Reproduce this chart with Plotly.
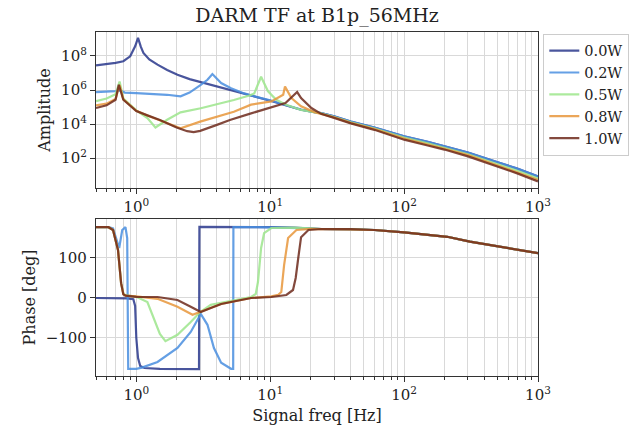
import plotly.graph_objects as go

# ---------------- data ----------------
labels = ["0.0W", "0.2W", "0.5W", "0.8W", "1.0W"]
colors = ["#2a388c", "#4a8fe0", "#9de68c", "#e8973c", "#6e2a1c"]

# Amplitude (log10 values) per series
amp_f_00 = [0.5, 0.6, 0.7, 0.8, 0.9, 0.98, 1.03, 1.08, 1.13, 1.25, 1.44, 1.7, 2.03, 2.5, 3.2, 4.06, 5.0, 6.05, 8.0, 10, 13, 17, 21.4, 24, 30, 40, 60, 100, 150, 200, 300, 500, 700, 1000]
amp_l_00 = [7.45, 7.52, 7.6, 7.69, 7.98, 8.57, 9.06, 8.55, 8.18, 7.8, 7.49, 7.18, 6.9, 6.64, 6.41, 6.22, 6.02, 5.82, 5.6, 5.37, 5.1, 4.84, 4.7, 4.65, 4.45, 4.15, 3.8, 3.28, 2.95, 2.7, 2.33, 1.75, 1.38, 0.92]

amp_f_02 = [0.5, 0.6, 0.7, 0.76, 0.82, 1.0, 1.3, 1.7, 2.14, 2.5, 3.03, 3.4, 3.7, 4.3, 5.1, 6.4, 8.0, 10, 13, 17, 21.4, 24, 30, 40, 60, 100, 150, 200, 300, 500, 700, 1000]
amp_l_02 = [5.88, 5.9, 5.93, 5.98, 5.85, 5.82, 5.78, 5.72, 5.63, 5.85, 6.3, 6.6, 6.94, 6.41, 6.1, 5.8, 5.58, 5.4, 5.12, 4.85, 4.7, 4.65, 4.45, 4.15, 3.8, 3.28, 2.95, 2.7, 2.33, 1.75, 1.38, 0.92]

amp_f_05 = [0.5, 0.6, 0.7, 0.75, 0.8, 0.9, 1.0, 1.21, 1.39, 1.7, 2.14, 3.03, 4.0, 5.35, 7.0, 7.6, 8.55, 9.6, 11, 13, 17, 21.4, 24, 30, 40, 60, 100, 150, 200, 300, 500, 700, 1000]
amp_l_05 = [5.35, 5.5, 5.75, 6.5, 5.5, 5.1, 4.8, 4.35, 3.8, 4.25, 4.69, 4.93, 5.15, 5.41, 5.68, 5.8, 6.78, 5.94, 5.45, 5.15, 4.83, 4.69, 4.63, 4.41, 4.1, 3.73, 3.2, 2.86, 2.6, 2.22, 1.63, 1.25, 0.8]

amp_f_08 = [0.5, 0.6, 0.7, 0.75, 0.8, 0.9, 1.0, 1.21, 1.5, 1.8, 2.14, 3.0, 4.0, 5.35, 7.2, 10.2, 12.5, 12.9, 14.4, 17, 21.4, 24, 30, 40, 60, 100, 150, 200, 300, 500, 700, 1000]
amp_l_08 = [5.1, 5.2, 5.48, 6.3, 5.45, 5.07, 4.78, 4.5, 4.2, 3.95, 3.75, 4.14, 4.45, 4.72, 5.14, 5.33, 5.72, 6.2, 5.53, 5.04, 4.7, 4.61, 4.39, 4.07, 3.7, 3.14, 2.8, 2.55, 2.17, 1.57, 1.18, 0.72]

amp_f_10 = [0.5, 0.6, 0.7, 0.74, 0.8, 0.9, 1.0, 1.21, 1.5, 2.0, 2.4, 2.68, 3.0, 4.0, 5.0, 7.0, 10, 13, 15.9, 17, 20.3, 24, 30, 40, 60, 100, 150, 200, 300, 500, 700, 1000]
amp_l_10 = [4.94, 5.1, 5.43, 6.31, 5.43, 5.06, 4.76, 4.51, 4.24, 3.8, 3.58, 3.53, 3.6, 3.95, 4.24, 4.6, 4.94, 5.23, 5.88, 5.53, 4.94, 4.6, 4.36, 4.04, 3.66, 3.08, 2.74, 2.5, 2.1, 1.5, 1.1, 0.63]

# Phase (deg) per series
ph_f_00 = [0.5, 0.7, 0.85, 0.95, 0.98, 1.0, 1.03, 1.07, 1.15, 1.5, 2.0, 2.94, 2.96, 5.0, 10, 15, 20, 24, 40, 60, 100, 150, 210, 310, 545, 700, 1000]
ph_v_00 = [0, 0, -1, -3, -20, -100, -150, -170, -175, -177, -178, -178, 178, 178, 177, 176, 174, 172.5, 172, 170, 164, 158, 153, 141, 127, 120, 112]

ph_f_02 = [0.5, 0.62, 0.67, 0.72, 0.745, 0.785, 0.83, 0.855, 0.87, 1.0, 1.1, 1.44, 2.03, 2.55, 3.03, 3.4, 3.8, 4.3, 5.1, 5.29, 5.31, 8.0, 15, 20, 24, 40, 60, 100, 150, 210, 310, 545, 700, 1000]
ph_v_02 = [177, 177, 174, 140, 125, 170, 177, 150, -177, -177, -174, -160, -125, -85, -40, -67, -125, -162, -177, -177, 177, 177, 176, 174, 172.5, 172, 170, 164, 158, 153, 141, 127, 120, 112]

ph_f_05 = [0.5, 0.62, 0.67, 0.73, 0.77, 0.8, 0.83, 1.0, 1.21, 1.39, 1.5, 1.65, 2.03, 2.55, 3.0, 3.6, 5.1, 7.2, 7.8, 8.1, 8.55, 9.0, 10.2, 15, 20, 24, 40, 60, 100, 150, 210, 310, 545, 700, 1000]
ph_v_05 = [177, 177, 170, 120, 37, 12, 7, 3, -10, -60, -90, -108, -92, -60, -35, -17, -7.5, 2.5, 10, 40, 125, 162, 175, 176, 174, 172.5, 172, 170, 164, 158, 153, 141, 127, 120, 112]

ph_f_08 = [0.5, 0.62, 0.67, 0.73, 0.77, 0.8, 0.83, 1.0, 1.44, 2.03, 2.63, 3.0, 3.6, 4.3, 5.1, 7.2, 10.2, 11.5, 12.1, 12.7, 13.6, 15.7, 20, 24, 40, 60, 100, 150, 210, 310, 545, 700, 1000]
ph_v_08 = [177, 177, 170, 120, 37, 10, 6, 4, -2, -22, -42, -35, -25, -15, -10, 0, 4, 8, 15, 82, 150, 170, 173, 172.5, 172, 170, 164, 158, 153, 141, 127, 120, 112]

ph_f_10 = [0.5, 0.62, 0.67, 0.73, 0.77, 0.8, 0.83, 1.0, 1.44, 2.03, 2.55, 3.03, 3.6, 4.3, 5.1, 7.2, 10.2, 13.2, 14.8, 15.5, 16.2, 17.0, 19.3, 24, 40, 60, 100, 150, 210, 310, 545, 700, 1000]
ph_v_10 = [177, 177, 170, 120, 37, 9, 6, 3, 2.5, -5, -22, -35, -25, -15, -10, 0, 2.5, 7.5, 20, 50, 100, 152, 170, 172.5, 172, 170, 164, 158, 153, 141, 127, 120, 112]

x_major = [1, 10, 100, 1000]
x_major_text = ["10<sup>0</sup>", "10<sup>1</sup>", "10<sup>2</sup>", "10<sup>3</sup>"]
x_minor = [0.5, 0.6, 0.7, 0.8, 0.9, 2, 3, 4, 5, 6, 7, 8, 9, 20, 30, 40, 50, 60, 70, 80, 90,
           200, 300, 400, 500, 600, 700, 800, 900]
y_amp_ticks = [1e2, 1e4, 1e6, 1e8]
y_amp_text = ["10<sup>2</sup>", "10<sup>4</sup>", "10<sup>6</sup>", "10<sup>8</sup>"]
y_ph_ticks = [-100, 0, 100]

title_text = "DARM TF at B1p_56MHz"

# ---------------- figure ----------------
amp_sets = [(amp_f_00, amp_l_00), (amp_f_02, amp_l_02), (amp_f_05, amp_l_05),
            (amp_f_08, amp_l_08), (amp_f_10, amp_l_10)]
ph_sets = [(ph_f_00, ph_v_00), (ph_f_02, ph_v_02), (ph_f_05, ph_v_05),
           (ph_f_08, ph_v_08), (ph_f_10, ph_v_10)]

fig = go.Figure()
for i, (f, l) in enumerate(amp_sets):
    fig.add_trace(go.Scatter(x=f, y=[10 ** v for v in l], mode="lines", name=labels[i],
                             line=dict(color=colors[i], width=2.2), opacity=0.85,
                             legendgroup=labels[i], xaxis="x", yaxis="y"))
for i, (f, v) in enumerate(ph_sets):
    fig.add_trace(go.Scatter(x=f, y=v, mode="lines", name=labels[i], showlegend=False,
                             line=dict(color=colors[i], width=2.2), opacity=0.85,
                             legendgroup=labels[i], xaxis="x2", yaxis="y2"))

font_family = "DejaVu Serif"
grid_c = "#d9d9d9"
axis_c = "#333333"

common_x = dict(type="log", range=[-0.30103, 3], tickvals=x_major, ticktext=x_major_text,
                ticks="outside", ticklen=5, tickcolor=axis_c, showline=True, linecolor=axis_c,
                linewidth=1.2, mirror=True, showgrid=True, gridcolor=grid_c, gridwidth=1,
                zeroline=False, tickfont=dict(size=15, color="#222"), automargin=False,
                minor=dict(tickvals=x_minor, ticks="outside", ticklen=3, tickcolor=axis_c,
                           showgrid=True, gridcolor=grid_c, gridwidth=0.8))

fig.update_layout(
    width=638, height=428,
    margin=dict(l=96, r=100, t=32, b=52, autoexpand=False),
    paper_bgcolor="white", plot_bgcolor="white",
    font=dict(family=font_family, color="#222", size=15),
    title=dict(text=title_text, x=0.497, xanchor="center", y=0.965, yanchor="middle",
               font=dict(size=19, family=font_family)),
    xaxis=dict(domain=[0, 1], anchor="y", **common_x),
    xaxis2=dict(domain=[0, 1], anchor="y2",
                title=dict(text="Signal freq [Hz]", font=dict(size=16), standoff=6), **common_x),
    yaxis=dict(domain=[0.5465, 1], anchor="x", type="log", range=[0.24, 9.41],
               tickvals=y_amp_ticks, ticktext=y_amp_text, ticks="outside", ticklen=5,
               tickcolor=axis_c, showline=True, linecolor=axis_c, linewidth=1.2, mirror=True,
               showgrid=True, gridcolor=grid_c, zeroline=False, tickfont=dict(size=15),
               automargin=False,
               title=dict(text="Amplitude", font=dict(size=16), standoff=6)),
    yaxis2=dict(domain=[0, 0.4564], anchor="x2", range=[-195, 197.5],
                tickvals=y_ph_ticks, ticktext=["\u2212100", "0", "100"], ticks="outside", ticklen=5,
                tickcolor=axis_c, showline=True, linecolor=axis_c, linewidth=1.2, mirror=True,
                showgrid=True, gridcolor=grid_c, zeroline=False, tickfont=dict(size=15),
                automargin=False,
                title=dict(text="Phase [deg]", font=dict(size=16), standoff=6)),
    legend=dict(x=1.012, xanchor="left", y=0.995, yanchor="top",
                bordercolor="#cccccc", borderwidth=1, bgcolor="white",
                font=dict(size=14.5, family=font_family), tracegroupgap=0,
                itemwidth=30),
    showlegend=True,
)

fig.write_html("out.html", config={"displayModeBar": False},
               post_script="document.body.style.margin='0';document.body.style.padding='0';")
